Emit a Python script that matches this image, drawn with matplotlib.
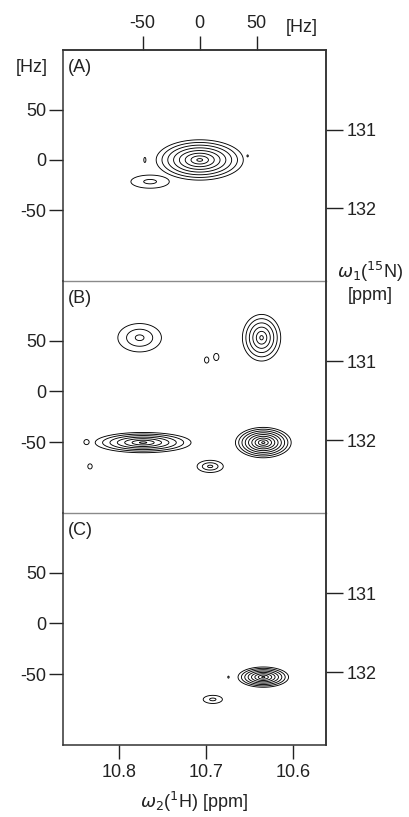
import numpy as np
import matplotlib.pyplot as plt

plt.rcParams['font.family'] = ['Liberation Sans', 'DejaVu Sans']
plt.rcParams['axes.unicode_minus'] = False

# peaks per panel: 1H centre (ppm), 15N offset (Hz),
# half extent of outermost contour (ppm, Hz), number of contour levels
A_ppm = [10.707, 10.764, 10.770, 10.652]
A_hz = [0.0, -21.5, 0.0, 4.0]
A_wx = [0.050, 0.022, 0.0012, 0.0008]
A_wy = [20.0, 6.5, 2.5, 1.0]
A_n = [8, 2, 1, 1]

B_ppm = [10.776, 10.636, 10.699, 10.688, 10.772, 10.837, 10.833, 10.634, 10.695]
B_hz = [53.0, 53.0, 31.0, 34.0, -50.5, -50.0, -74.0, -50.5, -74.0]
B_wx = [0.025, 0.022, 0.0025, 0.003, 0.055, 0.003, 0.0025, 0.032, 0.015]
B_wy = [14.0, 23.0, 3.0, 3.5, 10.0, 2.5, 2.5, 15.0, 6.0]
B_n = [3, 6, 1, 1, 7, 1, 1, 9, 3]

C_ppm = [10.634, 10.692, 10.674]
C_hz = [-53.0, -75.0, -53.0]
C_wx = [0.029, 0.011, 0.0008]
C_wy = [10.0, 4.0, 1.0]
C_n = [8, 2, 1]

panel_labels = ['(A)', '(B)', '(C)']
hz_ticks = [50, 0, -50]
n15_ticks = [131, 132]
h1_ticks = [10.8, 10.7, 10.6]
hz_top_ticks = [-50, 0, 50]

STEP = 1.45
H_ZERO = 10.707      # 1H ppm at 0 Hz
H_SCALE = 763.0      # Hz per 1H ppm
N_ZERO_HZ = 30.0     # 15N offset of 131 ppm
N_SCALE = 78.0       # Hz per 15N ppm
INK = '#222222'


def ppm_to_hz(p):
    return (H_ZERO - np.asarray(p, float)) * H_SCALE


def hz_to_ppm(h):
    return H_ZERO - np.asarray(h, float) / H_SCALE


def hz_to_n15(h):
    return 131 + (N_ZERO_HZ - np.asarray(h, float)) / N_SCALE


def n15_to_hz(n):
    return N_ZERO_HZ - (np.asarray(n, float) - 131) * N_SCALE


def spectrum(X, Y, cx, cy, wx, wy, nlev):
    # cone-shaped peaks -> evenly spaced contour rings
    Z = np.zeros_like(X)
    for x0, y0, ex, ey, k in zip(cx, cy, wx, wy, nlev):
        amp = STEP ** (k - 0.5)
        r = np.hypot((X - x0) / ex, (Y - y0) / ey) * np.log(amp)
        Z = np.maximum(Z, amp * np.exp(-r))
    return Z


xg = np.linspace(10.55, 10.87, 1000)
yg = np.linspace(-125, 115, 800)
X, Y = np.meshgrid(xg, yg)
levels = STEP ** np.arange(0, 16)

fig = plt.figure(figsize=(4.1, 8.17), dpi=100)
left, width = 63 / 410, 263 / 410
bottoms = [1 - 281 / 817, 1 - 513 / 817, 1 - 745 / 817]
heights = [231 / 817, 232 / 817, 232 / 817]
panels = [(A_ppm, A_hz, A_wx, A_wy, A_n),
          (B_ppm, B_hz, B_wx, B_wy, B_n),
          (C_ppm, C_hz, C_wx, C_wy, C_n)]

for i, (pk, b, h) in enumerate(zip(panels, bottoms, heights)):
    ax = fig.add_axes([left, b, width, h])
    ax.patch.set_facecolor('none')
    Z = spectrum(X, Y, *pk)
    ax.contour(X, Y, Z, levels=levels, colors='black', linewidths=0.65)
    ax.set_xlim(10.864, 10.562)
    ax.set_ylim(-120, 109)
    ax.set_yticks(hz_ticks)
    ax.set_yticklabels([str(t) for t in hz_ticks])
    ax.tick_params(axis='y', direction='out', length=10, width=1, labelsize=13,
                   pad=2, colors=INK, labelcolor=INK)
    for sp in ax.spines.values():
        sp.set_linewidth(1.1)
        sp.set_color('#333333')
    if i < 2:
        ax.spines['bottom'].set_color('#8a8a8a')
        ax.spines['bottom'].set_linewidth(1.0)
        ax.spines['bottom'].set_zorder(5)
        ax.set_xticks([])
    else:
        ax.set_xticks(h1_ticks)
        ax.set_xticklabels([f'{t:.1f}' for t in h1_ticks])
        ax.tick_params(axis='x', direction='out', length=10, width=1, labelsize=13,
                       pad=4, colors=INK, labelcolor=INK)
        ax.set_xlabel(r'$\omega_2$($^1$H) [ppm]', fontsize=13, labelpad=6,
                      color=INK)
    if i > 0:
        ax.spines['top'].set_visible(False)
    ax.text(0.02, 0.925, panel_labels[i], transform=ax.transAxes, fontsize=13,
            va='center', ha='left', color=INK)

    sec = ax.secondary_yaxis('right', functions=(hz_to_n15, n15_to_hz))
    sec.set_yticks(n15_ticks)
    sec.set_yticklabels([str(t) for t in n15_ticks])
    sec.tick_params(direction='out', length=12, width=1, labelsize=13, pad=3,
                    colors=INK, labelcolor=INK)
    sec.spines['right'].set_linewidth(1.1)
    sec.spines['right'].set_color('#333333')

    if i == 0:
        top = ax.secondary_xaxis('top', functions=(ppm_to_hz, hz_to_ppm))
        top.set_xticks(hz_top_ticks)
        top.set_xticklabels([str(t) for t in hz_top_ticks])
        top.tick_params(direction='out', length=10, width=1, labelsize=13, pad=3,
                        colors=INK, labelcolor=INK)
        top.spines['top'].set_linewidth(1.1)
        top.spines['top'].set_color('#333333')

fig.text(302 / 410, 1 - 27 / 817, '[Hz]', fontsize=13, ha='center', va='center',
         color=INK)
fig.text(32 / 410, 1 - 67 / 817, '[Hz]', fontsize=13, ha='center', va='center',
         color=INK)
fig.text(370 / 410, 1 - 272 / 817, r'$\omega_1$($^{15}$N)', fontsize=13,
         ha='center', va='center', color=INK)
fig.text(370 / 410, 1 - 295 / 817, '[ppm]', fontsize=13, ha='center', va='center',
         color=INK)

fig.savefig('out.png', dpi=100, facecolor='white')
